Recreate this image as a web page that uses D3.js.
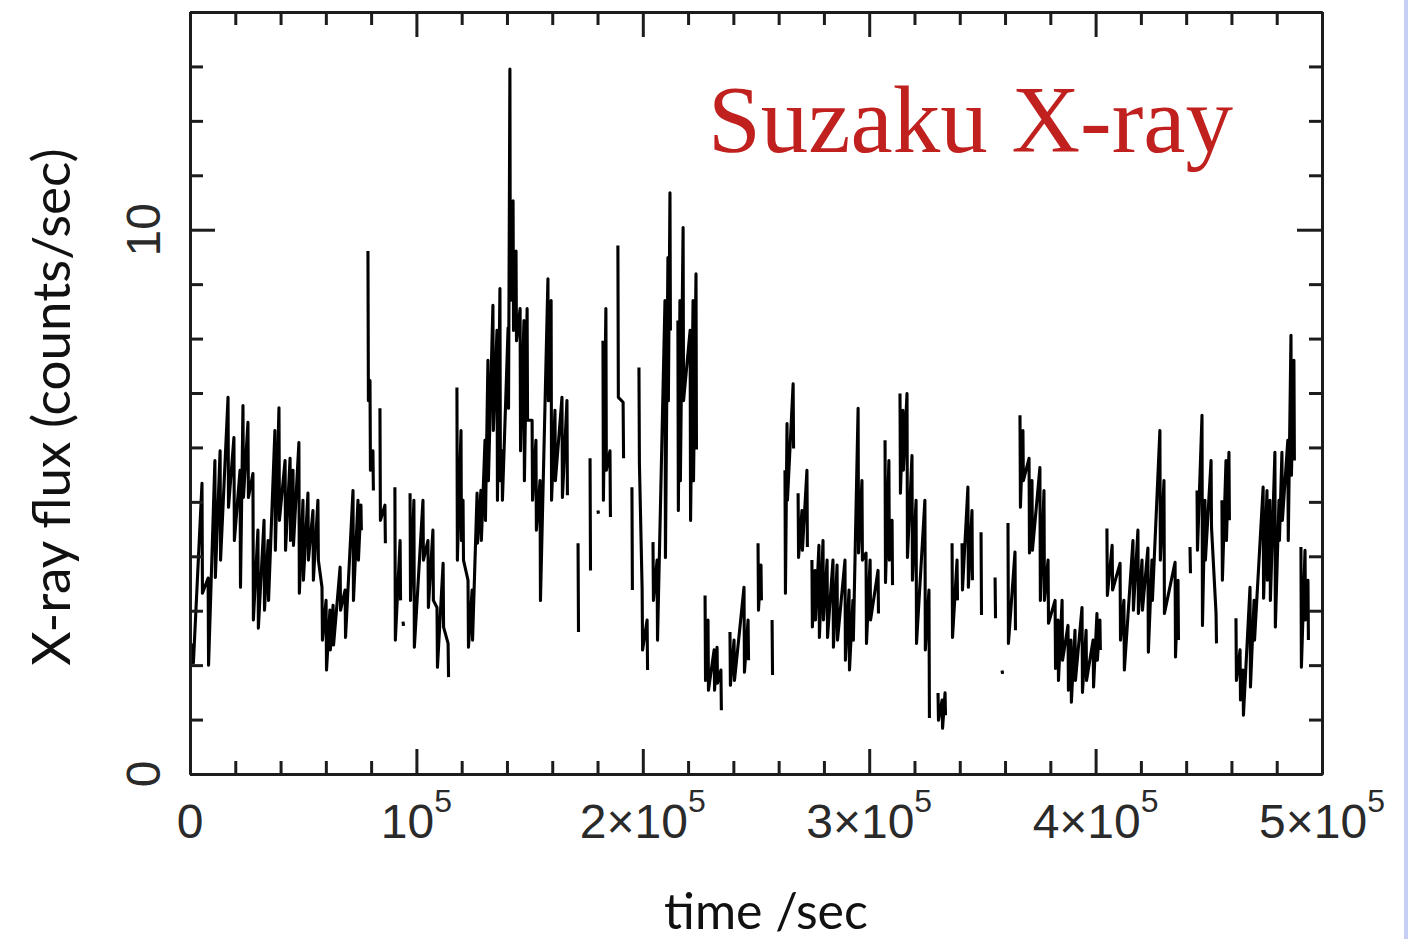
<!DOCTYPE html>
<html>
<head>
<meta charset="utf-8">
<script src="https://cdn.jsdelivr.net/npm/d3@7"></script>
<style>
  html, body { margin: 0; padding: 0; background: #fff; }
  svg { display: block; }
</style>
</head>
<body>
<script>
// light curve: time in ks, flux high / low of each stroke (null = gap)
var timeKs = [1.3,5.3,8.0,11.0,13.3,16.8,19.4,22.1,23.4,25.6,27.8,30.0,32.7,34.5,37.5,39.3,42.0,44.2,45.5,48.1,49.9,52.1,54.3,56.5,58.3,60.1,61.8,63.2,66.3,68.5,72.0,74.2,75.5,null,
  78.6,79.5,80.8,null,83.9,86.1,null,90.5,92.8,null,94.1,null,97.2,98.9,102.9,105.1,107.3,109.1,111.8,114.0,null,
  117.9,119.7,120.6,122.8,124.6,126.8,128.5,130.3,131.6,133.8,135.6,136.9,137.8,140.5,141.3,142.7,144.0,145.8,147.5,148.9,151.1,152.8,154.6,158.1,159.5,161.2,164.3,166.5,null,
  171.4,null,176.7,null,180.2,null,182.4,183.7,185.5,null,189.0,191.3,null,195.2,null,198.3,199.7,201.9,null,204.5,206.3,209.8,211.1,212.0,null,
  215.5,216.4,217.8,220.9,222.2,223.5,null,227.5,228.8,231.5,232.8,234.5,null,238.5,240.3,244.7,246.5,null,250.9,252.2,null,257.1,null,
  262.8,263.7,266.4,null,268.6,270.3,272.5,null,274.7,276.1,277.8,279.6,281.4,284.0,285.8,289.3,291.1,292.8,295.1,296.8,298.6,300.4,303.9,null,
  307.0,308.7,310.1,null,313.6,314.9,316.7,318.9,320.7,324.6,326.4,null,330.4,332.2,333.5,null,336.6,338.8,null,341.0,343.6,345.4,null,349.4,null,355.6,null,358.7,null,
  361.3,364.4,null,366.6,367.9,370.6,371.9,375.4,377.2,379.0,382.1,383.4,385.2,387.8,389.1,390.9,394.0,395.8,398.9,400.6,401.9,null,
  405.0,407.3,410.8,412.5,416.5,418.7,420.5,423.1,424.9,428.4,430.2,435.1,436.4,null,441.7,null,444.8,447.0,448.3,451.0,453.2,null,455.8,457.6,458.9,null,
  462.0,463.8,465.1,468.2,470.0,474.0,475.7,477.0,479.2,481.0,482.3,484.9,486.3,487.6,null,490.7,492.5,493.8];
var fluxHi = [2.40,5.34,3.60,5.76,5.94,6.92,6.18,5.58,6.77,6.46,5.52,4.48,4.66,4.29,6.31,6.73,5.76,5.80,5.58,6.09,5.03,5.16,4.84,5.03,3.43,3.19,3.01,3.10,3.80,3.38,5.21,5.03,4.94,null,
  9.61,7.23,5.94,null,6.72,4.94,null,5.27,4.29,null,2.80,null,5.16,5.03,5.03,4.29,4.48,3.06,3.87,2.40,null,
  7.10,6.31,5.03,3.56,3.38,5.16,5.21,6.13,7.60,8.61,8.15,8.92,5.94,8.20,12.95,10.53,9.61,8.55,8.33,8.55,6.50,6.13,5.39,9.10,8.70,6.68,6.92,6.86,null,
  4.24,null,5.80,null,4.84,null,7.96,8.55,5.94,null,9.71,6.83,null,5.27,null,7.47,3.41,2.83,null,4.26,3.93,8.70,9.49,10.68,null,
  8.33,8.70,10.04,8.15,8.70,9.19,null,3.28,2.83,2.28,2.33,1.91,null,2.61,2.46,3.43,2.83,null,4.24,3.84,null,2.83,null,
  5.58,6.44,7.17,null,5.16,4.84,5.58,null,3.93,3.74,4.20,4.29,3.93,3.93,3.84,3.93,3.38,3.19,6.72,5.39,4.06,3.93,3.74,null,
  6.13,5.76,4.66,null,6.99,6.68,6.99,5.85,5.03,5.03,3.38,null,1.49,1.36,1.49,null,4.24,3.93,null,4.24,5.27,4.84,null,4.44,null,3.61,null,1.90,null,
  4.61,4.08,null,6.59,6.31,5.80,5.39,5.63,5.21,3.93,3.19,2.83,3.19,2.73,2.46,2.64,3.06,2.64,2.46,2.95,2.83,null,
  4.51,4.20,3.87,3.19,4.29,4.48,3.93,4.15,3.93,6.31,5.39,3.89,3.56,null,4.17,null,5.21,6.59,5.03,5.76,2.95,null,5.03,5.76,5.91,null,
  2.86,2.28,1.91,3.43,3.19,5.27,5.21,5.03,5.91,5.03,5.91,6.13,8.06,7.60,null,4.17,4.11,3.56];
var fluxLo = [2.04,3.32,2.00,3.61,3.93,4.90,4.29,3.43,5.08,5.08,2.83,2.68,3.01,3.19,4.11,4.66,4.11,4.29,4.20,3.32,3.56,3.93,3.56,3.93,2.46,1.91,2.28,2.37,3.01,2.51,3.19,3.93,4.48,null,
  6.86,5.58,5.21,null,4.66,4.24,null,2.46,3.19,null,2.72,null,3.19,2.33,3.93,3.06,3.19,1.96,2.70,1.78,null,
  3.93,4.29,3.93,2.33,2.46,4.24,4.29,4.66,5.39,6.31,5.03,5.39,5.03,6.72,8.70,8.15,7.96,5.94,5.39,6.50,5.03,4.48,3.19,6.86,5.03,5.39,5.08,5.12,null,
  2.61,null,3.74,null,4.78,null,5.03,5.58,4.72,null,6.92,5.80,null,3.38,null,5.71,2.28,1.91,null,3.19,2.46,3.98,6.86,8.15,null,
  4.84,5.39,6.86,4.66,5.39,5.96,null,1.72,1.54,1.54,1.67,1.17,null,1.63,1.72,1.87,2.09,null,3.01,3.19,null,1.82,null,
  3.32,5.03,5.98,null,3.98,4.11,4.17,null,2.70,2.83,2.51,2.83,2.51,2.33,2.46,2.09,1.91,2.46,4.06,3.93,2.40,2.83,2.95,null,
  3.52,3.93,3.47,null,5.16,5.58,3.98,3.56,2.40,2.28,1.03,null,0.99,0.84,1.08,null,2.51,3.19,null,3.38,3.43,3.56,null,2.92,null,2.86,null,1.84,null,
  2.40,2.64,null,4.90,5.39,4.06,4.11,3.19,3.19,2.77,1.94,1.72,2.09,1.54,1.32,1.72,1.50,1.72,1.60,2.09,2.28,null,
  3.28,3.38,2.46,1.91,3.01,2.95,3.01,2.24,3.19,3.93,2.95,2.15,2.46,null,3.69,null,4.11,2.73,3.93,4.53,2.40,null,3.56,4.29,4.66,null,
  1.72,1.36,1.08,1.60,2.46,3.23,3.56,3.19,2.70,4.29,4.66,4.29,5.49,5.76,null,1.96,2.83,2.46];

var xMajorTicks = [0, 100000, 200000, 300000, 400000, 500000];
var xMinorTicks = d3.range(20000, 500000, 20000).filter(function(v){ return v % 100000 != 0; });
var yMajorTicks = [0, 10];
var yMinorTicks = [1,2,3,4,5,6,7,8,9,11,12,13,14];
var xLabelBase = ["0", "10", "2\u00d710", "3\u00d710", "4\u00d710", "5\u00d710"];
var xLabelExp = ["", "5", "5", "5", "5", "5"];
var yLabels = ["0", "10"];

var W = 1408, H = 939;
var margin = {left: 190, top: 12, right: 86, bottom: 165};
var w = W - margin.left - margin.right, h = H - margin.top - margin.bottom;

var svg = d3.select("body").append("svg").attr("width", W).attr("height", H);

// slide edge on the right
svg.append("rect").attr("x", 1404).attr("y", 0).attr("width", 4).attr("height", H).attr("fill", "#c6cef5");

var g = svg.append("g").attr("transform", "translate(" + margin.left + "," + margin.top + ")");

var x = d3.scaleLinear().domain([0, 500000]).range([0, w]);
var y = d3.scaleLinear().domain([0, 14]).range([h, 0]);

// light curve: each bin drawn as a near-vertical stroke hi -> lo
var pts = [];
timeKs.forEach(function(t, i){
  if (t === null) { pts.push(null); return; }
  pts.push({t: t*1000, f: fluxHi[i]});
  pts.push({t: t*1000 + 200, f: fluxLo[i]});
});
var line = d3.line().defined(function(d){ return d !== null; })
  .x(function(d){ return x(d.t); }).y(function(d){ return y(d.f); });
g.append("path").datum(pts).attr("d", line)
  .attr("fill", "none").attr("stroke", "#000").attr("stroke-width", 3.1).attr("stroke-linejoin", "round");

// frame + ticks, all pointing inwards
function addAxis(gen, tr){
  var a = g.append("g").attr("transform", tr).call(gen);
  a.selectAll("path, line").attr("stroke", "#1c1c1c").attr("stroke-width", 3);
  a.selectAll("text").remove();
  return a;
}
var minorLen = 13, majorLen = 25;
addAxis(d3.axisBottom(x).tickValues(xMinorTicks).tickSize(-minorLen).tickSizeOuter(0), "translate(0," + h + ")");
addAxis(d3.axisBottom(x).tickValues(xMajorTicks).tickSize(-majorLen).tickSizeOuter(0), "translate(0," + h + ")");
addAxis(d3.axisTop(x).tickValues(xMinorTicks).tickSize(-minorLen).tickSizeOuter(0), "translate(0,0)");
addAxis(d3.axisTop(x).tickValues(xMajorTicks).tickSize(-majorLen).tickSizeOuter(0), "translate(0,0)");
addAxis(d3.axisLeft(y).tickValues(yMinorTicks).tickSize(-minorLen).tickSizeOuter(0), "translate(0,0)");
addAxis(d3.axisLeft(y).tickValues(yMajorTicks).tickSize(-majorLen).tickSizeOuter(0), "translate(0,0)");
addAxis(d3.axisRight(y).tickValues(yMinorTicks).tickSize(-minorLen).tickSizeOuter(0), "translate(" + w + ",0)");
addAxis(d3.axisRight(y).tickValues(yMajorTicks).tickSize(-majorLen).tickSizeOuter(0), "translate(" + w + ",0)");

// x tick labels with superscript exponent
var xl = g.selectAll(".xlab").data(xMajorTicks).enter().append("text").attr("class", "xlab")
  .attr("x", function(d){ return x(d); }).attr("y", h + 64)
  .attr("text-anchor", "middle")
  .style("font-family", "'Liberation Sans', Arial, sans-serif").style("font-size", "48px").attr("fill", "#2a2a2a");
xl.append("tspan").text(function(d, i){ return xLabelBase[i]; });
xl.append("tspan").attr("dy", -26).style("font-size", "32px").text(function(d, i){ return xLabelExp[i]; });

// y tick labels, rotated
g.selectAll(".ylab").data(yMajorTicks).enter().append("text").attr("class", "ylab")
  .attr("transform", function(d){ return "translate(-30," + y(d) + ") rotate(-90)"; })
  .attr("text-anchor", "middle")
  .style("font-family", "'Liberation Sans', Arial, sans-serif").style("font-size", "48px").attr("fill", "#2a2a2a")
  .text(function(d, i){ return yLabels[i]; });

// axis titles
svg.append("text").attr("x", 766).attr("y", 929).attr("text-anchor", "middle")
  .style("font-family", "Lato, 'Open Sans', sans-serif").style("font-size", "50px").attr("fill", "#111")
  .text("time /sec");
svg.append("text").attr("transform", "translate(70,407) rotate(-90)").attr("text-anchor", "middle")
  .style("font-family", "Lato, 'Open Sans', sans-serif").style("font-size", "53px").attr("fill", "#111")
  .text("X-ray flux (counts/sec)");

// in-plot caption
svg.append("text").attr("x", 708).attr("y", 152)
  .style("font-family", "'Liberation Serif', 'Times New Roman', serif").style("font-size", "95px").attr("fill", "#c0201e")
  .text("Suzaku X-ray");
</script>
</body>
</html>
